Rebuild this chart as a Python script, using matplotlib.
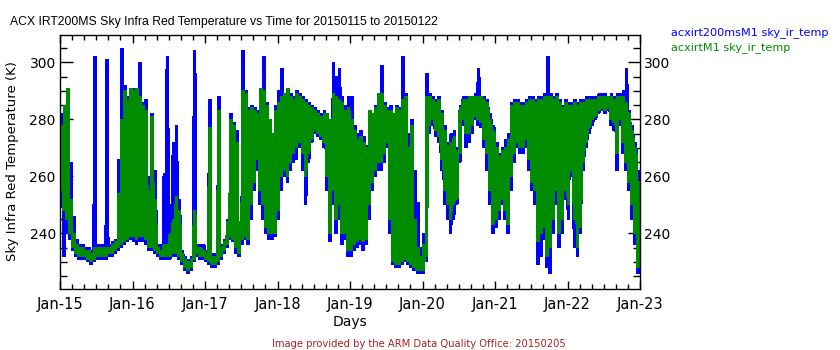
import numpy as np
import matplotlib
matplotlib.use("Agg")
import matplotlib.pyplot as plt
from matplotlib.ticker import MultipleLocator, FixedLocator

# Hourly envelopes of sky IR temperature (K), 2015-01-15 00Z .. 2015-01-23 00Z
# acxirt200msM1 (blue) lower/upper, acxirtM1 (green) lower/upper
ms_lo = [249, 232, 240, 238, 234, 232, 231, 231, 231, 230, 229, 230, 231, 231, 231, 231,
         232, 232, 233, 234, 235, 236, 237, 238, 237, 236, 237, 237, 236, 234, 234, 233,
         232, 231, 231, 231, 231, 232, 232, 231, 229, 227, 226, 227, 230, 232, 231, 231,
         230, 229, 228, 228, 229, 231, 233, 235, 238, 237, 233, 232, 236, 238, 236, 245,
         255, 262, 250, 245, 240, 238, 238, 239, 245, 255, 260, 258, 262, 265, 266, 270,
         262, 250, 265, 272, 275, 274, 273, 270, 255, 237, 250, 240, 245, 236, 238, 232,
         232, 234, 235, 236, 234, 236, 245, 255, 260, 262, 262, 265, 270, 240, 229, 228,
         228, 229, 230, 229, 228, 227, 226, 226, 226, 230, 275, 278, 274, 272, 262, 250,
         245, 240, 245, 250, 265, 278, 270, 272, 275, 280, 278, 277, 270, 262, 250, 240,
         242, 245, 250, 245, 240, 255, 265, 270, 268, 268, 270, 262, 255, 250, 229, 232,
         238, 228, 226, 240, 250, 235, 240, 252, 245, 260, 235, 232, 240, 262, 270, 275,
         278, 280, 282, 283, 282, 283, 278, 276, 262, 278, 268, 262, 255, 245, 236, 226]
ms_hi = [282, 280, 287, 265, 246, 238, 236, 236, 235, 235, 234, 302, 236, 236, 236, 301,
         236, 237, 238, 266, 305, 292, 288, 290, 291, 291, 300, 286, 287, 260, 282, 262,
         236, 236, 261, 302, 250, 272, 278, 252, 234, 232, 231, 232, 304, 236, 236, 236,
         234, 287, 233, 233, 288, 236, 238, 245, 282, 279, 276, 238, 304, 290, 284, 285,
         284, 283, 290, 302, 286, 275, 270, 285, 290, 298, 289, 290, 289, 288, 290, 289,
         288, 287, 286, 285, 284, 283, 282, 283, 280, 278, 300, 295, 298, 288, 285, 288,
         288, 278, 275, 276, 274, 271, 283, 282, 285, 289, 299, 286, 284, 285, 270, 285,
         284, 302, 289, 275, 280, 262, 251, 235, 240, 296, 289, 288, 287, 288, 283, 278,
         272, 275, 276, 270, 285, 288, 288, 288, 288, 289, 298, 288, 288, 287, 282, 278,
         272, 268, 270, 273, 275, 286, 287, 287, 286, 286, 287, 288, 288, 287, 288, 288,
         289, 302, 289, 288, 289, 287, 285, 287, 286, 286, 287, 286, 287, 287, 288, 288,
         288, 288, 289, 289, 289, 288, 289, 288, 289, 289, 290, 298, 283, 278, 272, 262]
m1_lo = [255, 248, 245, 240, 235, 233, 232, 232, 232, 231, 230, 231, 232, 232, 232, 232,
         233, 233, 234, 235, 236, 237, 238, 239, 239, 238, 239, 239, 238, 235, 235, 234,
         233, 232, 232, 232, 232, 233, 233, 232, 230, 228, 227, 228, 231, 233, 232, 232,
         231, 230, 229, 229, 230, 232, 234, 236, 239, 238, 235, 233, 238, 239, 238, 250,
         258, 266, 255, 250, 242, 240, 240, 240, 248, 260, 262, 260, 265, 268, 270, 272,
         268, 260, 268, 273, 276, 275, 274, 272, 260, 240, 255, 245, 250, 240, 240, 234,
         234, 236, 237, 238, 237, 238, 250, 258, 262, 265, 265, 268, 272, 245, 230, 229,
         229, 230, 231, 230, 229, 228, 227, 227, 227, 232, 278, 280, 276, 274, 266, 255,
         250, 245, 250, 252, 268, 280, 275, 275, 278, 281, 280, 279, 273, 268, 255, 243,
         245, 248, 252, 248, 243, 260, 268, 272, 270, 270, 273, 266, 258, 255, 237, 240,
         242, 232, 235, 245, 255, 240, 245, 255, 250, 262, 245, 235, 242, 265, 272, 277,
         280, 281, 283, 284, 283, 284, 280, 279, 268, 280, 272, 265, 258, 250, 240, 228]
m1_hi = [278, 285, 291, 252, 240, 236, 235, 235, 234, 234, 233, 235, 235, 235, 235, 235,
         235, 236, 237, 254, 280, 290, 287, 291, 290, 291, 288, 285, 283, 255, 281, 252,
         235, 234, 236, 236, 240, 245, 253, 248, 233, 231, 230, 231, 248, 235, 235, 234,
         233, 277, 232, 232, 283, 235, 237, 244, 280, 278, 272, 244, 290, 289, 283, 284,
         283, 282, 291, 290, 285, 280, 275, 283, 286, 288, 289, 291, 288, 287, 289, 288,
         287, 286, 285, 284, 283, 282, 281, 282, 282, 280, 289, 288, 287, 286, 283, 284,
         280, 276, 273, 274, 272, 270, 283, 282, 284, 289, 289, 285, 283, 283, 282, 284,
         283, 287, 288, 270, 278, 245, 235, 232, 236, 288, 288, 287, 286, 287, 282, 276,
         271, 272, 274, 269, 284, 287, 287, 288, 288, 288, 288, 288, 287, 286, 280, 276,
         270, 267, 269, 270, 273, 285, 286, 286, 285, 285, 286, 287, 287, 286, 287, 287,
         288, 288, 288, 287, 288, 286, 284, 286, 285, 285, 286, 285, 286, 286, 287, 287,
         287, 287, 288, 288, 288, 288, 288, 287, 288, 288, 288, 286, 282, 276, 270, 258]

day_labels = ["Jan-15", "Jan-16", "Jan-17", "Jan-18", "Jan-19",
              "Jan-20", "Jan-21", "Jan-22", "Jan-23"]
series_names = ["acxirt200msM1 sky_ir_temp", "acxirtM1 sky_ir_temp"]

BLUE = "#0000ff"
GREEN = "#008c00"


def trace(ax, lo, hi, color):
    """Sweep each hourly bin twice between its minimum and maximum."""
    h = np.arange(len(lo), dtype=float)
    x = np.column_stack([h + 0.05, h + 0.3, h + 0.55, h + 0.8]).ravel() / 24.0
    y = np.column_stack([lo, hi, lo, hi]).ravel()
    ax.plot(x, y, color=color, lw=0.85, solid_joinstyle="miter", antialiased=False)


fig = plt.figure(figsize=(8.4, 3.5), dpi=100)
ax = fig.add_axes([60 / 840, 61 / 350, 580 / 840, 254 / 350])

trace(ax, ms_lo, ms_hi, BLUE)
trace(ax, m1_lo, m1_hi, GREEN)

ax.set_xlim(0, 8)
ax.set_ylim(220.5, 309.6)

ax.xaxis.set_major_locator(FixedLocator(range(len(day_labels))))
ax.set_xticklabels(day_labels)
ax.xaxis.set_minor_locator(MultipleLocator(4 / 24))
ax.yaxis.set_major_locator(MultipleLocator(20))
ax.yaxis.set_minor_locator(MultipleLocator(5))

ax.tick_params(axis="both", which="both", direction="in", color="black", width=1.0)
ax.tick_params(axis="x", which="major", length=6, pad=6, top=True, labelsize=10.5)
ax.tick_params(axis="x", which="minor", length=3.5, top=True)
ax.tick_params(axis="y", which="major", length=9, pad=3, labelsize=10,
               right=True, labelright=True)
ax.tick_params(axis="y", which="minor", length=5, right=True)

for sp in ax.spines.values():
    sp.set_linewidth(1.0)

ax.set_xlabel("Days", fontsize=10, labelpad=2)
ax.set_ylabel("Sky Infra Red Temperature (K)", fontsize=9.5)
ax.yaxis.set_label_coords(-0.071, 0.505)

fig.text(10 / 840, 1 - 22 / 350,
         "ACX IRT200MS Sky Infra Red Temperature vs Time for 20150115 to 20150122",
         fontsize=8.8, va="center", ha="left", family="Liberation Sans")
fig.text(671 / 840, 1 - 33 / 350, series_names[0], color=BLUE,
         fontsize=8.1, va="center", ha="left")
fig.text(671 / 840, 1 - 48 / 350, series_names[1], color=GREEN,
         fontsize=8.1, va="center", ha="left")
fig.text(419 / 840, 1 - 344 / 350,
         "Image provided by the ARM Data Quality Office: 20150205",
         color="#a82222", fontsize=7.2, va="center", ha="center")

fig.savefig("out.png", dpi=100)
